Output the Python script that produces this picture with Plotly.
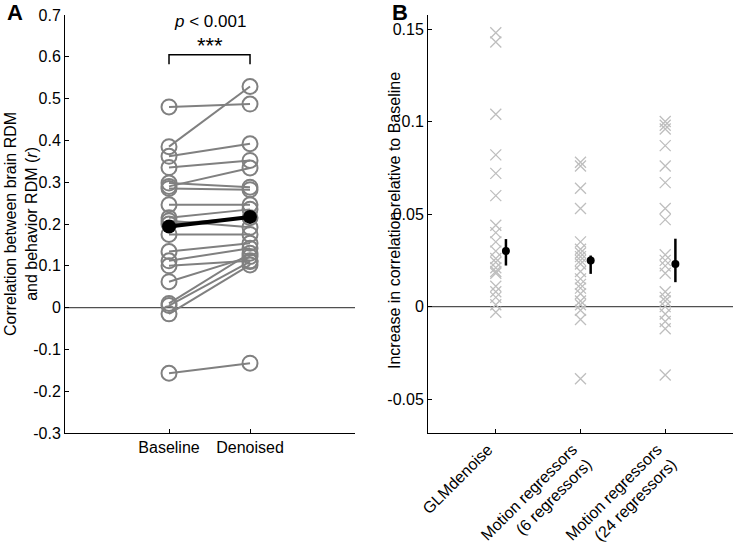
import plotly.graph_objects as go

# ---------------- data ----------------
conditions_a = ["Baseline", "Denoised"]
baseline = [0.480, 0.385, 0.362, 0.335, 0.298, 0.290, 0.285, 0.246, 0.215, 0.208,
            0.200, 0.175, 0.134, 0.112, 0.100, 0.062, 0.010, 0.005, -0.015, -0.157]
denoised = [0.487, 0.529, 0.392, 0.352, 0.288, 0.334, 0.282, 0.246, 0.235, 0.192,
            0.215, 0.175, 0.154, 0.142, 0.112, 0.122, 0.130, 0.110, 0.102, -0.133]
mean_a = [0.194, 0.217]

methods = ["GLMdenoise", "Motion regressors<br>(6 regressors)", "Motion regressors<br>(24 regressors)"]
inc_glm = [0.148, 0.143, 0.104, 0.082, 0.072, 0.060, 0.044, 0.040, 0.035, 0.030,
           0.026, 0.021, 0.019, 0.018, 0.011, 0.008, 0.005, 0.001, -0.003, 0.024]
inc_mot6 = [0.078, 0.076, 0.064, 0.053, 0.035, 0.031, 0.029, 0.027, 0.025, 0.023,
            0.019, 0.015, 0.012, 0.010, 0.007, 0.003, 0.001, -0.002, -0.007, -0.039]
inc_mot24 = [0.100, 0.098, 0.096, 0.087, 0.076, 0.067, 0.053, 0.047, 0.028, 0.025,
             0.022, 0.018, 0.008, 0.005, 0.003, 0.000, -0.004, -0.008, -0.012, -0.037]
inc_mean = [0.030, 0.0249, 0.0231]
inc_hi = [0.0365, 0.0276, 0.0367]
inc_lo = [0.0222, 0.0177, 0.0132]

yticks_a = [0.7, 0.6, 0.5, 0.4, 0.3, 0.2, 0.1, 0, -0.1, -0.2, -0.3]
ytext_a = ["0.7", "0.6", "0.5", "0.4", "0.3", "0.2", "0.1", "0", "-0.1", "-0.2", "-0.3"]
yticks_b = [0.15, 0.1, 0.05, 0, -0.05]
ytext_b = ["0.15", "0.1", "0.05", "0", "-0.05"]

title_a = "Correlation between brain RDM<br>and behavior RDM (<i>r</i>)"
title_b = "Increase in correlation relative to Baseline"

# ---------------- figure ----------------
FONT = "Liberation Sans, Arial, Helvetica, sans-serif"
GRAY = "rgb(128,128,128)"
LGRAY = "rgb(190,190,190)"
FS = 16
W, H = 733, 543

fig = go.Figure()

xa = [1, 2]
lx, ly = [], []
for b, d in zip(baseline, denoised):
    lx += [xa[0], xa[1], None]
    ly += [b, d, None]
fig.add_trace(go.Scatter(x=lx, y=ly, mode="lines", line=dict(color=GRAY, width=2),
                         xaxis="x", yaxis="y", hoverinfo="skip", showlegend=False))
fig.add_trace(go.Scatter(x=[xa[0]] * len(baseline) + [xa[1]] * len(denoised),
                         y=baseline + denoised, mode="markers",
                         marker=dict(symbol="circle-open", size=15, color=GRAY,
                                     line=dict(width=2, color=GRAY)),
                         xaxis="x", yaxis="y", showlegend=False, cliponaxis=False))
fig.add_trace(go.Scatter(x=xa, y=mean_a, mode="lines+markers",
                         line=dict(color="black", width=4),
                         marker=dict(symbol="circle", size=14, color="black"),
                         xaxis="x", yaxis="y", showlegend=False))

for i, vals in enumerate([inc_glm, inc_mot6, inc_mot24]):
    fig.add_trace(go.Scatter(x=[i + 1] * len(vals), y=vals, mode="markers",
                             marker=dict(symbol="x-thin", size=11,
                                         line=dict(width=1.3, color=LGRAY)),
                             xaxis="x2", yaxis="y2", showlegend=False))
mx = [k + 1.12 for k in range(3)]
fig.add_trace(go.Scatter(x=mx, y=inc_mean, mode="markers",
                         marker=dict(symbol="circle", size=8, color="black"),
                         error_y=dict(type="data", symmetric=False,
                                      array=[h - m for h, m in zip(inc_hi, inc_mean)],
                                      arrayminus=[m - l for l, m in zip(inc_lo, inc_mean)],
                                      color="black", thickness=2.5, width=0),
                         xaxis="x2", yaxis="y2", showlegend=False))

ydom = [(H - 433) / H, (H - 15) / H]
axis_common = dict(showline=True, linecolor="black", linewidth=1, ticks="inside",
                   ticklen=4, tickcolor="black", showgrid=False, zeroline=False,
                   automargin=False,
                   tickfont=dict(family=FONT, size=FS, color="black"))

fig.update_layout(
    width=W, height=H, margin=dict(l=0, r=0, t=0, b=0),
    paper_bgcolor="white", plot_bgcolor="white",
    font=dict(family=FONT, size=FS, color="black"),
    xaxis=dict(domain=[65 / W, 355 / W], range=[-0.284, 3.296],
               tickvals=xa, ticktext=conditions_a, anchor="y", **axis_common),
    yaxis=dict(domain=ydom, range=[-0.3, 0.7], tickvals=yticks_a, ticktext=ytext_a,
               anchor="x", **axis_common),
    xaxis2=dict(domain=[428 / W, 1.0], range=[0.2, 3.8], tickvals=[1, 2, 3],
                ticktext=methods, tickangle=-45, anchor="y2", ticklabelshift=-8,
                **axis_common),
    yaxis2=dict(domain=ydom, range=[-0.0683, 0.1576], tickvals=yticks_b, ticktext=ytext_b,
                anchor="x2", **axis_common),
)

# axis titles as rotated annotations
fig.add_annotation(x=21 / W, y=(H - 224) / H, xref="paper", yref="paper", text=title_a,
                   textangle=-90, showarrow=False, xanchor="center", yanchor="middle",
                   font=dict(family=FONT, size=FS))
fig.add_annotation(x=395 / W, y=(H - 221) / H, xref="paper", yref="paper", text=title_b,
                   textangle=-90, showarrow=False, xanchor="center", yanchor="middle",
                   font=dict(family=FONT, size=FS))

# zero lines
for xr, yr in [("x domain", "y"), ("x2 domain", "y2")]:
    fig.add_shape(type="line", xref=xr, yref=yr, x0=0, x1=1, y0=0, y1=0,
                  line=dict(color="rgb(80,80,80)", width=1.2), layer="below")

# significance bracket
br_top, br_bot = 0.605, 0.582
fig.add_shape(type="path", xref="x", yref="y",
              path=f"M {xa[0]},{br_bot} L {xa[0]},{br_top} L {xa[1]},{br_top} L {xa[1]},{br_bot}",
              line=dict(color="black", width=1.5))
fig.add_annotation(x=1.5, y=0.684, xref="x", yref="y", text="<i>p</i> < 0.001",
                   showarrow=False, font=dict(family=FONT, size=17))
fig.add_annotation(x=1.5, y=0.628, xref="x", yref="y", text="***",
                   showarrow=False, font=dict(family=FONT, size=22))

# panel letters
fig.add_annotation(x=5 / W, y=1 - 12.5 / H, xref="paper", yref="paper", text="<b>A</b>",
                   showarrow=False, xanchor="left", yanchor="middle", height=21,
                   valign="middle", font=dict(family=FONT, size=22))
fig.add_annotation(x=390 / W, y=1 - 12.5 / H, xref="paper", yref="paper", text="<b>B</b>",
                   showarrow=False, xanchor="left", yanchor="middle", height=21,
                   valign="middle", font=dict(family=FONT, size=22))

fig.write_html("out.html", config={"displayModeBar": False},
               post_script="document.body.style.margin='0px';")
